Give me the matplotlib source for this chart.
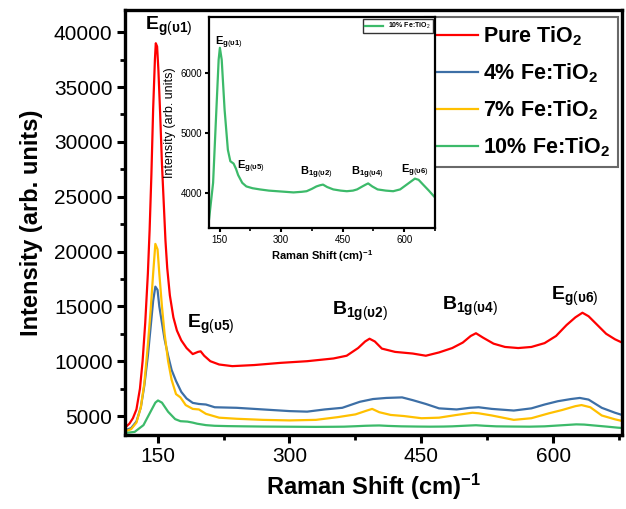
import matplotlib
matplotlib.use("Agg")
import matplotlib.pyplot as plt
from matplotlib.ticker import MultipleLocator

plt.rcParams['font.family'] = ['Liberation Sans', 'DejaVu Sans']
plt.rcParams['mathtext.fontset'] = 'custom'
plt.rcParams['mathtext.rm'] = 'Liberation Sans'
plt.rcParams['mathtext.bf'] = 'Liberation Sans:bold'
plt.rcParams['mathtext.it'] = 'Liberation Sans:italic'

# values
pure_x = [113, 118, 122, 126, 130, 133, 136, 139, 141, 143, 145, 147, 148, 149.5, 151, 153, 155, 157,
          159, 161, 164, 168, 172, 177, 183, 190, 196, 199, 203, 210, 220, 235, 260, 290, 320, 350,
          365, 378, 386, 391, 397, 405, 420, 440, 455, 470, 485, 497, 506, 512, 520, 532, 545, 560,
          575, 590, 603, 615, 625, 633, 640, 650, 660, 670, 678]
pure_y = [3950, 4300, 4800, 5600, 7500, 10000, 13500, 18000, 22000, 27000, 33000, 37500, 39000, 38700,
          36500, 32500, 28000, 24500, 21000, 18500, 16000, 14000, 12800, 11900, 11200, 10650, 10850,
          10900, 10500, 10000, 9700, 9550, 9650, 9850, 10000, 10250, 10500, 11200, 11800, 12050, 11800,
          11150, 10850, 10700, 10500, 10800, 11200, 11700, 12300, 12550, 12150, 11600, 11300, 11200,
          11300, 11650, 12300, 13300, 14000, 14420, 14100, 13300, 12500, 12000, 11700]

fe4_x = [113, 120, 126, 131, 135, 139, 142, 145, 147.5, 150, 152, 155, 158, 162, 166, 171, 177, 183,
         190, 197, 205, 215, 240, 270, 300, 320, 340, 360, 380, 395, 410, 428, 440, 455, 470, 490, 505,
         515, 530, 555, 575, 590, 605, 620, 630, 640, 655, 670, 678]
fe4_y = [3700, 3900, 4500, 5800, 7800, 10500, 13000, 15500, 16800, 16500, 15000, 13500, 12000, 10500,
         9200, 8200, 7200, 6600, 6200, 6100, 6050, 5800, 5750, 5600, 5450, 5400, 5600, 5750, 6300, 6550,
         6650, 6700, 6450, 6100, 5700, 5600, 5750, 5800, 5650, 5500, 5700, 6050, 6350, 6550, 6650, 6500,
         5750, 5300, 5100]

fe7_x = [113, 120, 126, 131, 135, 139, 142, 145, 147.5, 150, 152, 155, 158, 162, 166, 171, 176, 182,
         190, 197, 205, 220, 240, 270, 300, 330, 355, 375, 388, 394, 402, 415, 430, 450, 470, 490, 508,
         515, 530, 555, 575, 595, 610, 625, 632, 642, 655, 670, 678]
fe7_y = [3600, 3800, 4400, 5800, 8000, 11500, 14500, 18000, 20700, 20200, 18000, 15000, 12500, 10000,
         8300, 7000, 6700, 6000, 5650, 5600, 5200, 4850, 4750, 4650, 4600, 4650, 4900, 5150, 5500, 5650,
         5350, 5100, 5000, 4800, 4850, 5100, 5300, 5250, 5050, 4650, 4800, 5250, 5550, 5900, 6000, 5800,
         5050, 4700, 4550]

fe10_x = [113, 124, 134, 142, 147.5, 150.5, 155, 162, 170, 176, 184, 190, 195, 205, 215, 230, 248, 270,
          290, 310, 330, 350, 362, 375, 386, 395, 402, 412, 427, 445, 460, 475, 485, 498, 506, 512, 522,
          535, 555, 573, 590, 606, 618, 626, 635, 646, 660, 673, 683]
fe10_y = [3450, 3556, 4170, 5390, 6220, 6420, 6220, 5390, 4720, 4530, 4490, 4400, 4300, 4170, 4110,
          4080, 4060, 4040, 4030, 4020, 4010, 4020, 4030, 4070, 4110, 4130, 4140, 4100, 4060, 4040, 4030,
          4040, 4060, 4110, 4140, 4160, 4110, 4060, 4040, 4030, 4060, 4140, 4200, 4240, 4220, 4140, 4040,
          3940, 3880]

labels = ['Pure TiO$_\\mathbf{2}$', '4% Fe:TiO$_\\mathbf{2}$', '7% Fe:TiO$_\\mathbf{2}$', '10% Fe:TiO$_\\mathbf{2}$']
colors = ['#ff0000', '#3d6fa6', '#ffc000', '#3cba6a']

modes = ['E', 'E', 'B', 'B', 'E']
subs = ['g', 'g', '1g', '1g', 'g']
nums = ['1', '5', '2', '4', '6']
main_pos = [(136, 40200), (184, 13000), (348, 14200), (473, 14650), (597, 15550)]
inset_pos = [(138, 6470), (192, 4400), (345, 4305), (471, 4305), (591, 4333)]


def mode_label(m, s, n):
    return r'$\mathbf{%s}_{\mathbf{%s}\mathrm{(}\mathbf{υ%s}\mathrm{)}}$' % (m, s, n)


fig = plt.figure(figsize=(6.26, 5.09), dpi=100)
ax = fig.add_axes([125 / 626, 1 - 435 / 509, 497 / 626, 425 / 509])

for xs, ys, lab, c in zip([pure_x, fe4_x, fe7_x, fe10_x], [pure_y, fe4_y, fe7_y, fe10_y], labels, colors):
    ax.plot(xs, ys, color=c, lw=1.6, label=lab)

ax.set_xlim(113, 678)
ax.set_ylim(3270, 42030)
ax.xaxis.set_major_locator(MultipleLocator(150))
ax.xaxis.set_minor_locator(MultipleLocator(75))
ax.yaxis.set_major_locator(MultipleLocator(5000))
ax.yaxis.set_minor_locator(MultipleLocator(2500))
ax.tick_params(which='major', direction='out', length=6, width=2.2, labelsize=15, pad=3)
ax.tick_params(which='minor', direction='out', length=3.5, width=2)
for sp in ax.spines.values():
    sp.set_linewidth(2.4)
ax.set_xlabel('Raman Shift (cm)$^{\\mathbf{-1}}$', fontsize=17, fontweight='bold', labelpad=4)
ax.set_ylabel('Intensity (arb. units)', fontsize=17, fontweight='bold', labelpad=8)

for (x, y), m, s, n in zip(main_pos, modes, subs, nums):
    ax.text(x, y, mode_label(m, s, n), fontsize=14, ha='left', va='baseline')

leg = ax.legend(loc='upper right', bbox_to_anchor=(618 / 626, 1 - 17 / 509), bbox_transform=fig.transFigure,
                prop={'size': 15.5, 'weight': 'bold'}, fancybox=False, handlelength=2.1, handletextpad=0.25,
                labelspacing=0.62, borderpad=0.35, borderaxespad=0)
leg.get_frame().set_edgecolor('#444444')
leg.get_frame().set_linewidth(1.5)

# inset with the 10% sample
ins = fig.add_axes([209 / 626, 1 - 228 / 509, 226 / 626, 211 / 509])
ins.plot(fe10_x, fe10_y, color=colors[3], lw=1.6, label='10% Fe:TiO$_2$')
ins.set_xlim(124, 675)
ins.set_ylim(3417, 6933)
ins.xaxis.set_major_locator(MultipleLocator(150))
ins.xaxis.set_minor_locator(MultipleLocator(75))
ins.yaxis.set_major_locator(MultipleLocator(1000))
ins.tick_params(which='major', direction='out', length=3, width=1.5, labelsize=7, pad=2)
ins.tick_params(which='minor', direction='out', length=2, width=1.2)
for sp in ins.spines.values():
    sp.set_linewidth(1.6)
ins.set_xlabel('Raman Shift (cm)$^{\\mathbf{-1}}$', fontsize=8, fontweight='bold', labelpad=2)
ins.set_ylabel('Intensity (arb. units)', fontsize=9, labelpad=3)
for (x, y), m, s, n in zip(inset_pos, modes, subs, nums):
    ins.text(x, y, mode_label(m, s, n), fontsize=8, ha='left', va='baseline')
il = ins.legend(loc='upper right', prop={'size': 5, 'weight': 'bold'}, fancybox=False, handlelength=2.5,
                borderaxespad=0.3, borderpad=0.3)
il.get_frame().set_edgecolor('black')
il.get_frame().set_linewidth(1.0)

fig.savefig('out.png', dpi=100)
